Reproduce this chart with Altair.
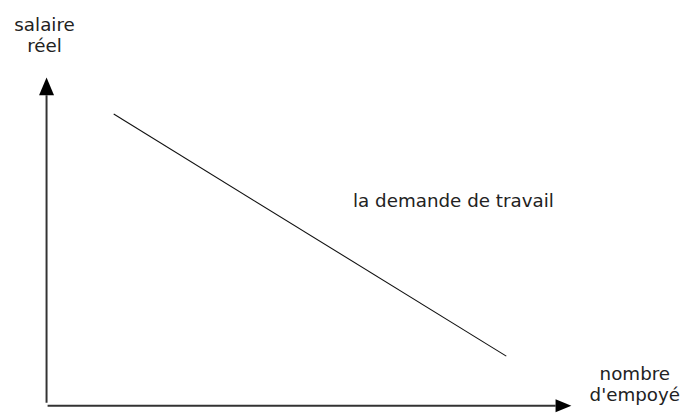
import altair as alt
import pandas as pd

# ---- data (abstract units: origin at the axes' corner, arrow tips at 100) ----
demand_x = [12.8, 87.6]
demand_y = [88.9, 15.1]

axis_names = ["yaxis", "yaxis", "xaxis", "xaxis"]
axis_x = [0.0, 0.0, 0.2, 97.0]
axis_y = [0.9, 94.6, 0.0, 0.0]

arrow_names = ["up", "right"]
arrow_x = [0.0, 100.0]
arrow_y = [100.0, 0.0]

label_texts = ["salaire", "réel", "nombre", "d'empoyé"]
label_x = [-0.38, -0.38, 112.1, 112.1]
label_y = [114.2, 107.8, 7.8, 1.5]

curve_label = ["la demande de travail"]
curve_label_x = [58.4]
curve_label_y = [60.5]

demand_df = pd.DataFrame({"x": demand_x, "y": demand_y})
axes_df = pd.DataFrame({"axis": axis_names, "x": axis_x, "y": axis_y})
arrows_df = pd.DataFrame({"dir": arrow_names, "x": arrow_x, "y": arrow_y})
labels_df = pd.DataFrame({"text": label_texts, "x": label_x, "y": label_y})
curve_df = pd.DataFrame({"text": curve_label, "x": curve_label_x, "y": curve_label_y})

x_scale = alt.Scale(domain=[-7.345, 121.846], nice=False, zero=False)
y_scale = alt.Scale(domain=[-2.108, 120.482], nice=False, zero=False)
X = alt.X("x:Q", scale=x_scale, axis=None)
Y = alt.Y("y:Q", scale=y_scale, axis=None)

FONT = "DejaVu Sans"
FS = 18.5

demand = alt.Chart(demand_df).mark_line(color="#111111", strokeWidth=1.1).encode(X, Y)

axes = alt.Chart(axes_df).mark_line(color="#333333", strokeWidth=2).encode(
    X, Y, detail="axis:N"
)

arrow_up = alt.Chart(arrows_df[arrows_df.dir == "up"]).mark_point(
    shape="M0,0L-0.42,1L0.42,1Z", size=1296, filled=True, color="#000000",
    opacity=1, strokeWidth=0
).encode(X, Y)

arrow_right = alt.Chart(arrows_df[arrows_df.dir == "right"]).mark_point(
    shape="M0,0L-1,-0.41L-1,0.41Z", size=1024, filled=True, color="#000000",
    opacity=1, strokeWidth=0
).encode(X, Y)

labels = alt.Chart(labels_df).mark_text(
    font=FONT, fontSize=FS, color="#222222", align="center", baseline="alphabetic"
).encode(X, Y, text="text:N")

curve_text = alt.Chart(curve_df).mark_text(
    font=FONT, fontSize=FS, color="#222222", align="left", baseline="alphabetic"
).encode(X, Y, text="text:N")

chart = alt.layer(axes, demand, arrow_up, arrow_right, labels, curve_text).properties(
    width=686, height=407, padding=0, autosize="none", background="white"
).configure_view(stroke=None)

chart.save("out.html", embed_options={"renderer": "svg", "actions": False})
